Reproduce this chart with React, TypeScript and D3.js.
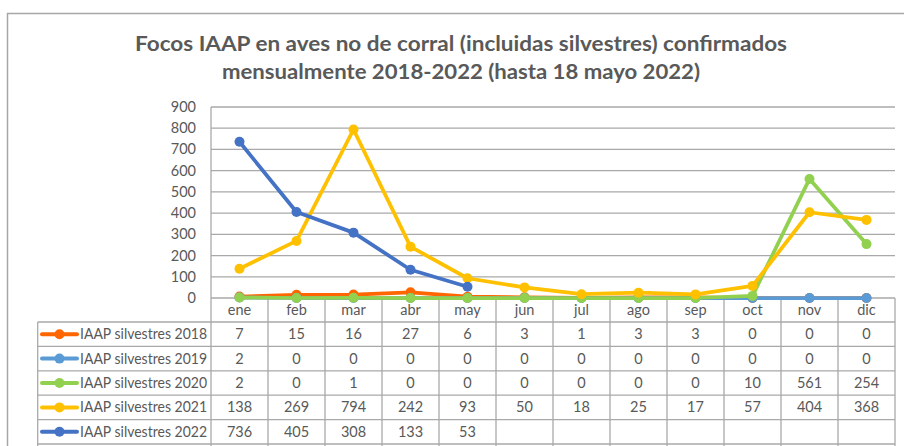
import * as d3 from "d3";
import { useEffect, useRef } from "react";

// monthly data
const months = ["ene", "feb", "mar", "abr", "may", "jun", "jul", "ago", "sep", "oct", "nov", "dic"];
const s2018 = [7, 15, 16, 27, 6, 3, 1, 3, 3, 0, 0, 0];
const s2019 = [2, 0, 0, 0, 0, 0, 0, 0, 0, 0, 0, 0];
const s2020 = [2, 0, 1, 0, 0, 0, 0, 0, 0, 10, 561, 254];
const s2021 = [138, 269, 794, 242, 93, 50, 18, 25, 17, 57, 404, 368];
const s2022 = [736, 405, 308, 133, 53];
const seriesNames = [
  "IAAP silvestres 2018",
  "IAAP silvestres 2019",
  "IAAP silvestres 2020",
  "IAAP silvestres 2021",
  "IAAP silvestres 2022",
];
const yTicks = [0, 100, 200, 300, 400, 500, 600, 700, 800, 900];
const titleLines = [
  "Focos IAAP en aves no de corral  (incluidas silvestres) confirmados",
  "mensualmente 2018-2022 (hasta 18 mayo 2022)",
];

const colors = ["#ff6600", "#5b9bd5", "#92d050", "#ffc000", "#4472c4"];
const font = "Lato, 'Open Sans', sans-serif";
const textColor = "#595959";
const gridColor = "#a9a9a9";

const App = () => {
  const ref = useRef<HTMLDivElement>(null);

  useEffect(() => {
    d3.select(ref.current).select("svg").remove();

    const W = 904, H = 446;
    const plotLeft = 211, plotRight = 895, plotTop = 107, plotBottom = 298;
    const legendLeft = 37.7;
    const headerBottom = 322;
    const rowH = 24.4;

    const svg = d3
      .select(ref.current)
      .append("svg")
      .attr("width", W)
      .attr("height", H)
      .style("position", "absolute")
      .style("left", "0px")
      .style("top", "0px")
      .style("background", "#fff");

    // outer chart frame
    svg.append("rect")
      .attr("x", 7.5).attr("y", 13.5)
      .attr("width", 1000).attr("height", 600)
      .attr("fill", "none")
      .attr("stroke", "#a6a6a6")
      .attr("stroke-width", 1.5);

    // title
    const title = svg.append("text")
      .attr("text-anchor", "middle")
      .attr("fill", textColor)
      .attr("font-family", font)
      .attr("font-weight", "bold")
      .attr("font-size", 20);
    title.append("tspan").attr("x", 461).attr("y", 51)
      .attr("textLength", 652).attr("lengthAdjust", "spacingAndGlyphs")
      .text(titleLines[0]);
    title.append("tspan").attr("x", 461).attr("y", 79)
      .attr("textLength", 478).attr("lengthAdjust", "spacingAndGlyphs")
      .text(titleLines[1]);

    const x = d3.scaleBand().domain(months).range([plotLeft, plotRight]);
    const y = d3.scaleLinear().domain([0, 900]).range([plotBottom, plotTop]);

    // gridlines
    svg.append("g")
      .selectAll("line")
      .data(yTicks)
      .join("line")
      .attr("x1", plotLeft).attr("x2", plotRight)
      .attr("y1", (d) => y(d)).attr("y2", (d) => y(d))
      .attr("stroke", gridColor)
      .attr("stroke-width", 1.3);

    // y labels
    svg.append("g")
      .selectAll("text")
      .data(yTicks)
      .join("text")
      .attr("x", 196)
      .attr("y", (d) => y(d) + 5)
      .attr("text-anchor", "end")
      .attr("fill", textColor)
      .attr("font-family", font)
      .attr("font-size", 14.5)
      .text((d) => d);

    // data table grid
    const nRows = seriesNames.length;
    const tableBottom = headerBottom + rowH * nRows;
    const tbl = svg.append("g")
      .attr("stroke", gridColor)
      .attr("stroke-width", 1.3);
    // vertical lines: plot left edge + band separators
    tbl.selectAll("line.v")
      .data(months.map((m) => x(m)!).concat([plotRight]))
      .join("line")
      .attr("class", "v")
      .attr("x1", (d) => d).attr("x2", (d) => d)
      .attr("y1", (d) => (d === plotLeft ? plotTop : plotBottom))
      .attr("y2", tableBottom + 10);
    tbl.append("line")
      .attr("x1", legendLeft).attr("x2", legendLeft)
      .attr("y1", headerBottom).attr("y2", tableBottom + 10);
    tbl.selectAll("line.h")
      .data(d3.range(nRows + 1).map((i) => headerBottom + i * rowH))
      .join("line")
      .attr("class", "h")
      .attr("x1", legendLeft).attr("x2", plotRight)
      .attr("y1", (d) => d).attr("y2", (d) => d);

    // category labels
    svg.append("g")
      .selectAll("text")
      .data(months)
      .join("text")
      .attr("x", (d) => x(d)! + x.bandwidth() / 2)
      .attr("y", 315)
      .attr("text-anchor", "middle")
      .attr("fill", textColor)
      .attr("font-family", font)
      .attr("font-size", 14.5)
      .text((d) => d);

    const allSeries = [s2018, s2019, s2020, s2021, s2022];

    // table rows
    allSeries.forEach((vals, i) => {
      const rowY = headerBottom + i * rowH;
      const g = svg.append("g");
      g.append("line")
        .attr("x1", 42).attr("x2", 77)
        .attr("y1", rowY + rowH / 2).attr("y2", rowY + rowH / 2)
        .attr("stroke", colors[i])
        .attr("stroke-width", 4)
        .attr("stroke-linecap", "round");
      g.append("circle")
        .attr("cx", 59.5).attr("cy", rowY + rowH / 2)
        .attr("r", 5).attr("fill", colors[i]);
      g.append("text")
        .attr("x", 80).attr("y", rowY + rowH / 2 + 5)
        .attr("fill", textColor)
        .attr("font-family", font)
        .attr("font-size", 14.5)
        .attr("textLength", 127)
        .attr("lengthAdjust", "spacingAndGlyphs")
        .text(seriesNames[i]);
      g.selectAll("text.v")
        .data(vals)
        .join("text")
        .attr("class", "v")
        .attr("x", (_d, j) => x(months[j])! + x.bandwidth() / 2)
        .attr("y", rowY + rowH / 2 + 5)
        .attr("text-anchor", "middle")
        .attr("fill", textColor)
        .attr("font-family", font)
        .attr("font-size", 14.5)
        .text((d) => d);
    });

    // lines + markers
    const line = d3.line<number>()
      .x((_d, j) => x(months[j])! + x.bandwidth() / 2)
      .y((d) => y(d));
    allSeries.forEach((vals, i) => {
      const g = svg.append("g");
      g.append("path")
        .attr("d", line(vals))
        .attr("fill", "none")
        .attr("stroke", colors[i])
        .attr("stroke-width", 3.75)
        .attr("stroke-linejoin", "round")
        .attr("stroke-linecap", "round");
      g.selectAll("circle")
        .data(vals)
        .join("circle")
        .attr("cx", (_d, j) => x(months[j])! + x.bandwidth() / 2)
        .attr("cy", (d) => y(d))
        .attr("r", 5)
        .attr("fill", colors[i]);
    });
  }, []);

  return <div ref={ref} />;
};

export default App;
